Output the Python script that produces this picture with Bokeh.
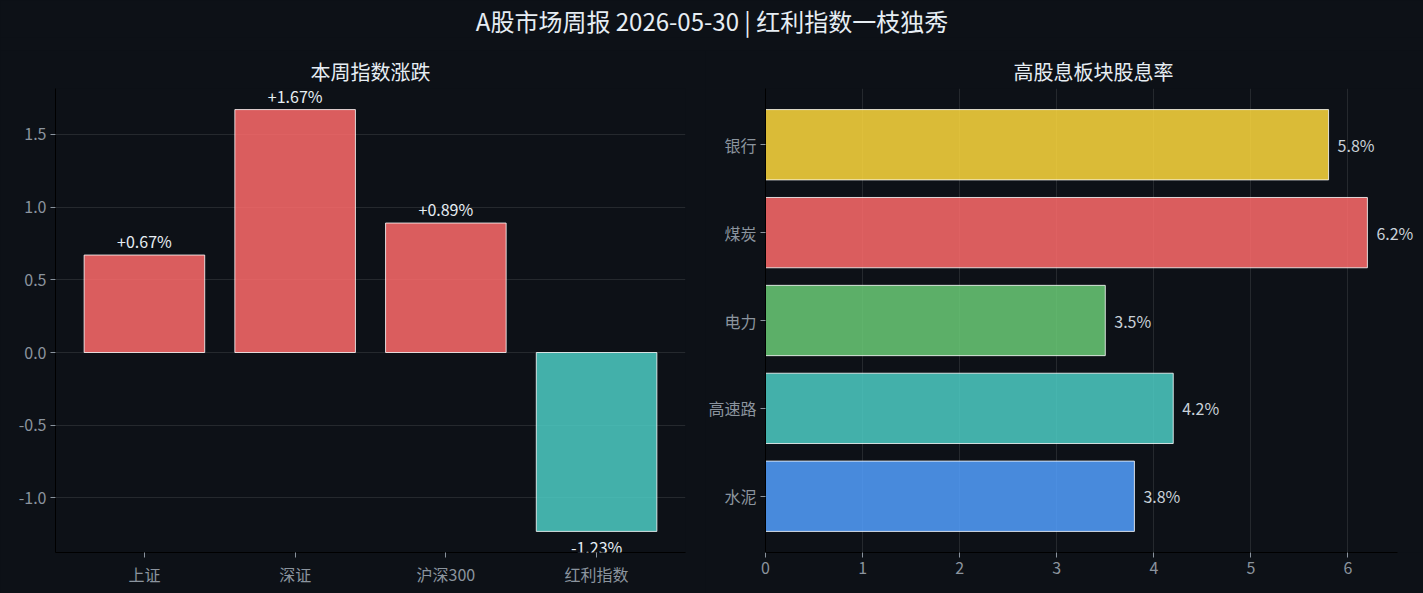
from bokeh.plotting import figure
from bokeh.layouts import column, row
from bokeh.models import (ColumnDataSource, Range1d, SingleIntervalTicker, FixedTicker,
                          NumeralTickFormatter, Label)
from bokeh.embed import file_html
from bokeh.resources import INLINE

BG = "#0d1117"
FONT = "Noto Sans CJK SC"
TICK_COLOR = "#8b949e"
TEXT_COLOR = "#e6edf3"

suptitle = "A股市场周报 2026-05-30 | 红利指数一枝独秀"

left_title = "本周指数涨跌"
indices = ["上证", "深证", "沪深300", "红利指数"]
changes = [0.67, 1.67, 0.89, -1.23]
up_color = "#ff6b6b"
down_color = "#4ecdc4"

right_title = "高股息板块股息率"
sectors = ["水泥", "高速路", "电力", "煤炭", "银行"]   # bottom -> top
yields = [3.8, 4.2, 3.5, 6.2, 5.8]
sector_colors = ["#54a0ff", "#4ecdc4", "#6bcb77", "#ff6b6b", "#ffd93d"]

BAR = 0.8
MARGIN = 0.05


def cat_range(n):
    lo, hi = -BAR / 2, n - 1 + BAR / 2
    m = (hi - lo) * MARGIN
    return Range1d(lo - m, hi + m)


def style(p):
    p.background_fill_color = BG
    p.border_fill_color = BG
    p.outline_line_color = None
    p.title.text_font = FONT
    p.title.text_font_size = "20px"
    p.title.text_font_style = "normal"
    p.title.text_color = TEXT_COLOR
    p.title.align = "center"
    p.title.standoff = 6
    for ax in p.axis:
        ax.axis_line_color = "black"
        ax.axis_line_width = 1
        ax.major_tick_line_color = TICK_COLOR
        ax.major_tick_in = 0
        ax.major_tick_out = 5
        ax.minor_tick_line_color = None
        ax.major_label_text_color = TICK_COLOR
        ax.major_label_text_font = FONT
        ax.major_label_text_font_size = "16px"
        ax.major_label_standoff = 4
    for g in p.grid:
        g.grid_line_color = "white"
        g.grid_line_alpha = 0.1


# ---------- suptitle ----------
pt = figure(width=1423, height=50, title=suptitle, output_backend="svg",
            toolbar_location=None, x_range=Range1d(0, 1), y_range=Range1d(0, 1),
            min_border_left=0, min_border_right=0, min_border_top=6, min_border_bottom=0)
pt.background_fill_color = BG
pt.border_fill_color = BG
pt.outline_line_color = None
pt.axis.visible = False
pt.grid.visible = False
pt.title.text_font = FONT
pt.title.text_font_size = "24px"
pt.title.text_font_style = "normal"
pt.title.text_color = TEXT_COLOR
pt.title.align = "center"
pt.title.standoff = 0
pt.title.offset = 0

# ---------- left ----------
xpos = list(range(len(indices)))
lo, hi = min(changes), max(changes)
pad = (hi - lo) * MARGIN
p1 = figure(width=705, height=543, title=left_title, output_backend="svg", toolbar_location=None,
            x_range=cat_range(len(indices)), y_range=Range1d(lo - pad, hi + pad),
            min_border_left=55, min_border_right=20, min_border_top=38, min_border_bottom=41)
src1 = ColumnDataSource(dict(
    x=xpos, val=changes,
    color=[up_color if v >= 0 else down_color for v in changes],
))
p1.vbar(x="x", top="val", bottom=0, width=BAR, source=src1, fill_color="color",
        fill_alpha=0.85, line_color="white", line_alpha=0.8, line_width=1)
for x, v in zip(xpos, changes):
    if v >= 0:
        lab = Label(x=x, y=v, text=f"{v:+.2f}%", text_align="center", text_baseline="bottom",
                    y_offset=2, text_color=TEXT_COLOR, text_font=FONT, text_font_size="16px")
    else:
        lab = Label(x=x, y=v, text=f"{v:+.2f}%", text_align="center", text_baseline="top",
                    y_offset=-4, text_color=TEXT_COLOR, text_font=FONT, text_font_size="16px")
    p1.add_layout(lab)
p1.xaxis.ticker = FixedTicker(ticks=xpos)
p1.xaxis.major_label_overrides = {x: n for x, n in zip(xpos, indices)}
p1.yaxis.ticker = SingleIntervalTicker(interval=0.5)
p1.yaxis.formatter = NumeralTickFormatter(format="0.0")
style(p1)
p1.xgrid.visible = False

# ---------- right ----------
# the frame is widened past the axis end so the outer value label is not clipped
AXIS_W = 632      # pixel length of the visible x axis
EXTRA_W = 24      # extra frame room for labels
xmax = max(yields) * (1 + MARGIN)
ypos = list(range(len(sectors)))
p2 = figure(width=718, height=543, title=right_title, output_backend="svg", toolbar_location=None,
            y_range=cat_range(len(sectors)),
            x_range=Range1d(0, xmax * (AXIS_W + EXTRA_W) / AXIS_W),
            min_border_left=58, min_border_right=2, min_border_top=38, min_border_bottom=41)
src2 = ColumnDataSource(dict(y=ypos, val=yields, color=sector_colors))
p2.hbar(y="y", right="val", left=0, height=BAR, source=src2, fill_color="color",
        fill_alpha=0.85, line_color="white", line_alpha=0.8, line_width=1)
for y, v in zip(ypos, yields):
    p2.add_layout(Label(x=v, y=y, text=f"{v:.1f}%", x_offset=9, text_align="left",
                        text_baseline="middle", text_color="#c9d1d9", text_font=FONT,
                        text_font_size="16px"))
p2.yaxis.ticker = FixedTicker(ticks=ypos)
p2.yaxis.major_label_overrides = {y: n for y, n in zip(ypos, sectors)}
p2.xaxis.ticker = SingleIntervalTicker(interval=1)
p2.xaxis.bounds = (0, xmax)
style(p2)
p2.ygrid.visible = False
p2.title.offset = -EXTRA_W / 2

layout = column(pt, row(p1, p2))
layout.styles = {"background-color": BG}
html = file_html(layout, INLINE, title="A股市场周报")
html = html.replace("<head>", "<head><style>html,body{margin:0;padding:0;background:#0d1117;}</style>", 1)
open("out.html", "w").write(html)
